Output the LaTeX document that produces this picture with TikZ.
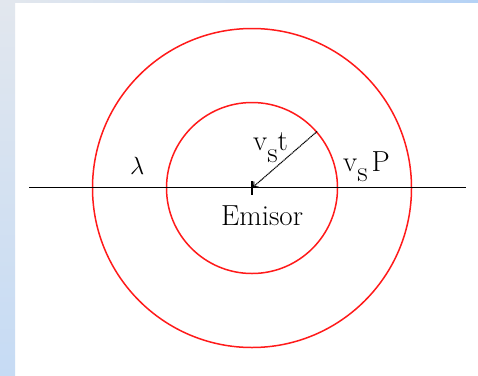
\documentclass[tikz,border=0pt]{standalone}
\usetikzlibrary{arrows.meta}
\definecolor{stripTop}{HTML}{E2E7EE}
\definecolor{stripBot}{HTML}{C6DBF4}
\definecolor{stripRight}{HTML}{B5D2F5}
\definecolor{wavered}{HTML}{FF1A1A}
\tikzset{
  wave/.style={circle, draw=wavered, line width=1.5pt, inner sep=0pt},
  lbl/.style={anchor=base west, inner sep=0pt, font=\fontsize{29}{32}\selectfont},
  axis/.style={line width=1.8pt, black},
}
\begin{document}
\begin{tikzpicture}[x=1pt,y=1pt]
\useasboundingbox (0,0) rectangle (478,-375);
\fill[white] (0,0) rectangle (478,-375);
\shade[top color=stripTop, bottom color=stripBot] (0,0) rectangle (15,-375);
\shade[left color=stripTop, right color=stripRight] (15,0) rectangle (478,-2.5);
\coordinate (c) at (252,-188);
\coordinate (L) at (29,-187.5);
\coordinate (R) at (466,-187.5);
\node[wave, minimum size=319pt] (outer) at (c) {};
\node[wave, minimum size=171pt] (inner) at (c) {};
\draw[axis] (L) -- (R);
\draw[line width=1.4pt] ([yshift=7pt]c) -- ([yshift=-7pt]c);
\draw[dash pattern=on 1.2pt off 0.6pt, line width=1.1pt, -{To[length=6pt,width=8pt,line width=1pt]}] (inner.41.6) -- (c);
\node[lbl] (lambda) at (130,-174) {$\lambda$};
\node[lbl] (vst) at (253,-150) {v\raisebox{-12pt}{s}t};
\node[lbl] (vsp) at (343,-171) {v\raisebox{-10pt}{s}\hspace{4pt}P};
\node[lbl] (emisor) at (221,-225) {Emisor};
\end{tikzpicture}
\end{document}
